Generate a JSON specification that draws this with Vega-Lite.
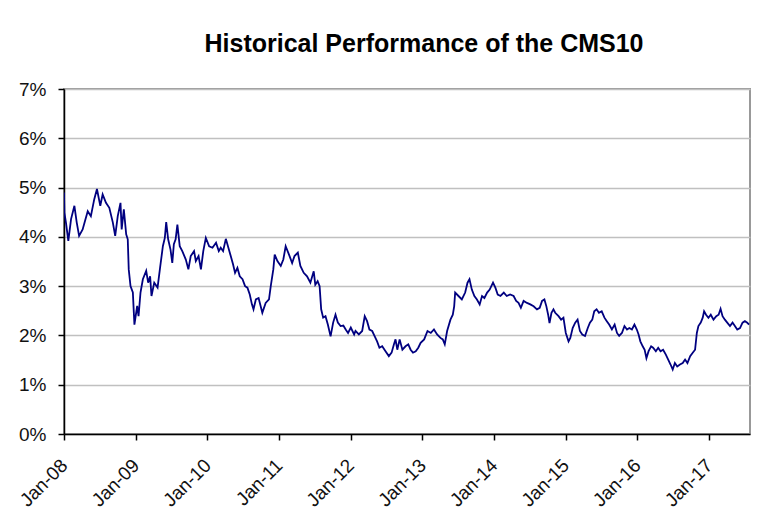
{
  "$schema": "https://vega.github.io/schema/vega-lite/v6.json",
  "width": 686,
  "height": 345,
  "autosize": {"type": "none"},
  "padding": {"left": 64, "top": 89, "right": 29, "bottom": 89},
  "background": "white",
  "title": {"text": "Historical Performance of the CMS10", "font": "Liberation Sans", "fontSize": 25, "fontWeight": "bold", "color": "black", "anchor": "middle", "dx": 17, "offset": 23},
  "data": {"values": [
    {"date": "2008-01-01", "rate": 4.90}, {"date": "2008-01-03", "rate": 4.49}, {"date": "2008-01-11", "rate": 4.29}, {"date": "2008-01-23", "rate": 3.92},
    {"date": "2008-02-06", "rate": 4.36}, {"date": "2008-02-23", "rate": 4.63}, {"date": "2008-03-06", "rate": 4.29}, {"date": "2008-03-18", "rate": 4.02},
    {"date": "2008-04-05", "rate": 4.15}, {"date": "2008-04-17", "rate": 4.32}, {"date": "2008-05-01", "rate": 4.52}, {"date": "2008-05-17", "rate": 4.42},
    {"date": "2008-06-03", "rate": 4.76}, {"date": "2008-06-17", "rate": 4.97}, {"date": "2008-07-04", "rate": 4.63}, {"date": "2008-07-16", "rate": 4.86},
    {"date": "2008-08-02", "rate": 4.69}, {"date": "2008-08-19", "rate": 4.59}, {"date": "2008-09-06", "rate": 4.29}, {"date": "2008-09-18", "rate": 4.02},
    {"date": "2008-10-01", "rate": 4.42}, {"date": "2008-10-15", "rate": 4.69}, {"date": "2008-10-21", "rate": 4.15}, {"date": "2008-11-01", "rate": 4.56},
    {"date": "2008-11-13", "rate": 4.05}, {"date": "2008-11-21", "rate": 3.95}, {"date": "2008-11-26", "rate": 3.34}, {"date": "2008-12-05", "rate": 3.00},
    {"date": "2008-12-17", "rate": 2.87}, {"date": "2008-12-22", "rate": 2.46}, {"date": "2008-12-25", "rate": 2.22}, {"date": "2009-01-08", "rate": 2.60},
    {"date": "2009-01-15", "rate": 2.39}, {"date": "2009-01-25", "rate": 2.87}, {"date": "2009-02-06", "rate": 3.14}, {"date": "2009-02-23", "rate": 3.31},
    {"date": "2009-03-05", "rate": 3.07}, {"date": "2009-03-15", "rate": 3.20}, {"date": "2009-03-22", "rate": 2.80}, {"date": "2009-04-05", "rate": 3.07},
    {"date": "2009-04-22", "rate": 2.97}, {"date": "2009-05-05", "rate": 3.38}, {"date": "2009-05-19", "rate": 3.81}, {"date": "2009-05-29", "rate": 3.98},
    {"date": "2009-06-05", "rate": 4.30}, {"date": "2009-06-15", "rate": 3.95}, {"date": "2009-06-27", "rate": 3.74}, {"date": "2009-07-06", "rate": 3.47},
    {"date": "2009-07-14", "rate": 3.85}, {"date": "2009-07-23", "rate": 3.95}, {"date": "2009-08-01", "rate": 4.25}, {"date": "2009-08-13", "rate": 3.81},
    {"date": "2009-08-26", "rate": 3.71}, {"date": "2009-09-13", "rate": 3.54}, {"date": "2009-09-26", "rate": 3.34}, {"date": "2009-10-08", "rate": 3.61},
    {"date": "2009-10-25", "rate": 3.71}, {"date": "2009-11-03", "rate": 3.51}, {"date": "2009-11-17", "rate": 3.61}, {"date": "2009-11-29", "rate": 3.34},
    {"date": "2009-12-11", "rate": 3.71}, {"date": "2009-12-24", "rate": 3.98}, {"date": "2010-01-10", "rate": 3.81}, {"date": "2010-01-27", "rate": 3.78},
    {"date": "2010-02-14", "rate": 3.88}, {"date": "2010-02-28", "rate": 3.71}, {"date": "2010-03-10", "rate": 3.78}, {"date": "2010-03-22", "rate": 3.71},
    {"date": "2010-04-05", "rate": 3.96}, {"date": "2010-04-18", "rate": 3.78}, {"date": "2010-04-30", "rate": 3.61}, {"date": "2010-05-12", "rate": 3.44},
    {"date": "2010-05-22", "rate": 3.27}, {"date": "2010-06-03", "rate": 3.37}, {"date": "2010-06-15", "rate": 3.20}, {"date": "2010-06-29", "rate": 3.14},
    {"date": "2010-07-12", "rate": 3.00}, {"date": "2010-07-24", "rate": 2.97}, {"date": "2010-08-05", "rate": 2.83}, {"date": "2010-08-16", "rate": 2.63},
    {"date": "2010-08-24", "rate": 2.53}, {"date": "2010-09-05", "rate": 2.73}, {"date": "2010-09-19", "rate": 2.76}, {"date": "2010-10-08", "rate": 2.46},
    {"date": "2010-10-25", "rate": 2.66}, {"date": "2010-11-11", "rate": 2.73}, {"date": "2010-11-20", "rate": 3.00}, {"date": "2010-12-03", "rate": 3.34},
    {"date": "2010-12-10", "rate": 3.64}, {"date": "2010-12-24", "rate": 3.51}, {"date": "2011-01-10", "rate": 3.41}, {"date": "2011-01-23", "rate": 3.54},
    {"date": "2011-02-04", "rate": 3.81}, {"date": "2011-02-21", "rate": 3.64}, {"date": "2011-03-09", "rate": 3.47}, {"date": "2011-03-21", "rate": 3.61},
    {"date": "2011-04-07", "rate": 3.68}, {"date": "2011-04-20", "rate": 3.41}, {"date": "2011-05-07", "rate": 3.27}, {"date": "2011-05-24", "rate": 3.20},
    {"date": "2011-06-10", "rate": 3.07}, {"date": "2011-06-27", "rate": 3.30}, {"date": "2011-07-05", "rate": 3.03}, {"date": "2011-07-17", "rate": 3.10},
    {"date": "2011-07-27", "rate": 3.00}, {"date": "2011-08-04", "rate": 2.53}, {"date": "2011-08-14", "rate": 2.36}, {"date": "2011-08-26", "rate": 2.39},
    {"date": "2011-09-07", "rate": 2.22}, {"date": "2011-09-21", "rate": 1.98}, {"date": "2011-10-04", "rate": 2.26}, {"date": "2011-10-16", "rate": 2.42},
    {"date": "2011-10-28", "rate": 2.26}, {"date": "2011-11-11", "rate": 2.19}, {"date": "2011-11-25", "rate": 2.20}, {"date": "2011-12-07", "rate": 2.12},
    {"date": "2011-12-19", "rate": 2.05}, {"date": "2012-01-02", "rate": 2.16}, {"date": "2012-01-19", "rate": 2.02}, {"date": "2012-01-26", "rate": 2.09},
    {"date": "2012-02-12", "rate": 2.02}, {"date": "2012-02-29", "rate": 2.09}, {"date": "2012-03-13", "rate": 2.39}, {"date": "2012-03-25", "rate": 2.29},
    {"date": "2012-04-06", "rate": 2.12}, {"date": "2012-04-20", "rate": 2.09}, {"date": "2012-05-03", "rate": 1.98}, {"date": "2012-05-15", "rate": 1.88},
    {"date": "2012-05-27", "rate": 1.75}, {"date": "2012-06-10", "rate": 1.78}, {"date": "2012-06-27", "rate": 1.68}, {"date": "2012-07-14", "rate": 1.58},
    {"date": "2012-07-28", "rate": 1.65}, {"date": "2012-08-09", "rate": 1.82}, {"date": "2012-08-17", "rate": 1.92}, {"date": "2012-08-26", "rate": 1.71},
    {"date": "2012-09-07", "rate": 1.92}, {"date": "2012-09-21", "rate": 1.71}, {"date": "2012-10-07", "rate": 1.78}, {"date": "2012-10-21", "rate": 1.82},
    {"date": "2012-11-02", "rate": 1.71}, {"date": "2012-11-14", "rate": 1.65}, {"date": "2012-11-28", "rate": 1.68}, {"date": "2012-12-11", "rate": 1.75},
    {"date": "2012-12-23", "rate": 1.85}, {"date": "2013-01-10", "rate": 1.92}, {"date": "2013-01-27", "rate": 2.09}, {"date": "2013-02-13", "rate": 2.05},
    {"date": "2013-03-01", "rate": 2.12}, {"date": "2013-03-17", "rate": 2.02}, {"date": "2013-04-03", "rate": 1.95}, {"date": "2013-04-15", "rate": 1.92},
    {"date": "2013-04-25", "rate": 1.82}, {"date": "2013-05-07", "rate": 2.09}, {"date": "2013-05-24", "rate": 2.32}, {"date": "2013-06-05", "rate": 2.42},
    {"date": "2013-06-12", "rate": 2.59}, {"date": "2013-06-17", "rate": 2.87}, {"date": "2013-07-04", "rate": 2.80}, {"date": "2013-07-21", "rate": 2.73},
    {"date": "2013-08-07", "rate": 2.87}, {"date": "2013-08-19", "rate": 3.07}, {"date": "2013-08-29", "rate": 3.14}, {"date": "2013-09-10", "rate": 2.93},
    {"date": "2013-09-23", "rate": 2.80}, {"date": "2013-10-06", "rate": 2.73}, {"date": "2013-10-20", "rate": 2.63}, {"date": "2013-11-01", "rate": 2.80},
    {"date": "2013-11-13", "rate": 2.76}, {"date": "2013-11-27", "rate": 2.87}, {"date": "2013-12-10", "rate": 2.93}, {"date": "2013-12-27", "rate": 3.07},
    {"date": "2014-01-08", "rate": 2.97}, {"date": "2014-01-20", "rate": 2.83}, {"date": "2014-02-03", "rate": 2.80}, {"date": "2014-02-20", "rate": 2.87},
    {"date": "2014-03-07", "rate": 2.80}, {"date": "2014-03-24", "rate": 2.83}, {"date": "2014-04-11", "rate": 2.80}, {"date": "2014-04-24", "rate": 2.70},
    {"date": "2014-05-06", "rate": 2.66}, {"date": "2014-05-18", "rate": 2.56}, {"date": "2014-06-01", "rate": 2.70}, {"date": "2014-06-18", "rate": 2.66},
    {"date": "2014-07-05", "rate": 2.63}, {"date": "2014-07-22", "rate": 2.59}, {"date": "2014-08-08", "rate": 2.53}, {"date": "2014-08-22", "rate": 2.56},
    {"date": "2014-09-03", "rate": 2.70}, {"date": "2014-09-15", "rate": 2.73}, {"date": "2014-09-25", "rate": 2.59}, {"date": "2014-10-04", "rate": 2.42},
    {"date": "2014-10-11", "rate": 2.25}, {"date": "2014-10-21", "rate": 2.46}, {"date": "2014-10-31", "rate": 2.53}, {"date": "2014-11-09", "rate": 2.46},
    {"date": "2014-11-26", "rate": 2.39}, {"date": "2014-12-09", "rate": 2.32}, {"date": "2014-12-21", "rate": 2.36}, {"date": "2015-01-02", "rate": 2.05},
    {"date": "2015-01-16", "rate": 1.88}, {"date": "2015-01-25", "rate": 1.95}, {"date": "2015-02-06", "rate": 2.15}, {"date": "2015-02-19", "rate": 2.26},
    {"date": "2015-03-03", "rate": 2.32}, {"date": "2015-03-15", "rate": 2.09}, {"date": "2015-03-27", "rate": 2.02}, {"date": "2015-04-10", "rate": 1.99},
    {"date": "2015-04-24", "rate": 2.15}, {"date": "2015-05-05", "rate": 2.26}, {"date": "2015-05-17", "rate": 2.32}, {"date": "2015-05-27", "rate": 2.49},
    {"date": "2015-06-08", "rate": 2.53}, {"date": "2015-06-20", "rate": 2.46}, {"date": "2015-07-04", "rate": 2.49}, {"date": "2015-07-18", "rate": 2.36},
    {"date": "2015-07-30", "rate": 2.29}, {"date": "2015-08-11", "rate": 2.22}, {"date": "2015-08-25", "rate": 2.12}, {"date": "2015-09-08", "rate": 2.22},
    {"date": "2015-09-20", "rate": 2.05}, {"date": "2015-10-01", "rate": 1.99}, {"date": "2015-10-15", "rate": 2.05}, {"date": "2015-10-28", "rate": 2.19},
    {"date": "2015-11-10", "rate": 2.12}, {"date": "2015-11-22", "rate": 2.15}, {"date": "2015-12-05", "rate": 2.12}, {"date": "2015-12-18", "rate": 2.22},
    {"date": "2015-12-30", "rate": 2.12}, {"date": "2016-01-08", "rate": 2.02}, {"date": "2016-01-17", "rate": 1.88}, {"date": "2016-01-29", "rate": 1.78},
    {"date": "2016-02-08", "rate": 1.71}, {"date": "2016-02-17", "rate": 1.54}, {"date": "2016-02-28", "rate": 1.68}, {"date": "2016-03-12", "rate": 1.78},
    {"date": "2016-03-22", "rate": 1.75}, {"date": "2016-04-05", "rate": 1.68}, {"date": "2016-04-17", "rate": 1.75}, {"date": "2016-04-29", "rate": 1.68},
    {"date": "2016-05-12", "rate": 1.71}, {"date": "2016-05-26", "rate": 1.61}, {"date": "2016-06-07", "rate": 1.51}, {"date": "2016-06-19", "rate": 1.41},
    {"date": "2016-06-30", "rate": 1.31}, {"date": "2016-07-11", "rate": 1.44}, {"date": "2016-07-23", "rate": 1.37}, {"date": "2016-08-06", "rate": 1.41},
    {"date": "2016-08-20", "rate": 1.44}, {"date": "2016-09-01", "rate": 1.51}, {"date": "2016-09-13", "rate": 1.44}, {"date": "2016-09-27", "rate": 1.58},
    {"date": "2016-10-10", "rate": 1.65}, {"date": "2016-10-22", "rate": 1.71}, {"date": "2016-10-31", "rate": 2.05}, {"date": "2016-11-08", "rate": 2.19},
    {"date": "2016-11-20", "rate": 2.26}, {"date": "2016-11-30", "rate": 2.36}, {"date": "2016-12-07", "rate": 2.49}, {"date": "2016-12-17", "rate": 2.42},
    {"date": "2016-12-29", "rate": 2.36}, {"date": "2017-01-10", "rate": 2.42}, {"date": "2017-01-24", "rate": 2.32}, {"date": "2017-02-07", "rate": 2.39},
    {"date": "2017-02-19", "rate": 2.42}, {"date": "2017-03-01", "rate": 2.54}, {"date": "2017-03-11", "rate": 2.39}, {"date": "2017-03-23", "rate": 2.32},
    {"date": "2017-04-04", "rate": 2.26}, {"date": "2017-04-18", "rate": 2.19}, {"date": "2017-05-01", "rate": 2.26}, {"date": "2017-05-13", "rate": 2.19},
    {"date": "2017-05-25", "rate": 2.12}, {"date": "2017-06-08", "rate": 2.15}, {"date": "2017-06-21", "rate": 2.26}, {"date": "2017-07-03", "rate": 2.29},
    {"date": "2017-07-15", "rate": 2.26}, {"date": "2017-07-24", "rate": 2.22}
  ]},
  "mark": {"type": "line", "color": "#000080", "strokeWidth": 1.8, "clip": true},
  "encoding": {
    "x": {
      "field": "date", "type": "temporal",
      "scale": {"type": "utc", "domain": [{"year": 2008, "month": 1, "date": 1, "utc": true}, {"year": 2017, "month": 7, "date": 29, "utc": true}]},
      "axis": {"title": null, "format": "%b-%y", "tickCount": {"interval": "year", "step": 1}, "labelAngle": -45, "labelAlign": "right", "labelBaseline": "middle", "labelFont": "Liberation Sans", "labelFontSize": 19, "labelColor": "#111111", "tickColor": "black", "tickSize": 6, "tickWidth": 1.5, "domainColor": "black", "domainWidth": 1.5, "grid": false, "labelPadding": 22, "labelOverlap": false, "labelFlush": false}
    },
    "y": {
      "field": "rate", "type": "quantitative",
      "scale": {"domain": [0, 7], "nice": false},
      "axis": {"title": null, "values": [0, 1, 2, 3, 4, 5, 6, 7], "labelExpr": "datum.value + '%'", "labelFont": "Liberation Sans", "labelFontSize": 19, "labelColor": "#111111", "tickColor": "black", "tickSize": 6, "tickWidth": 1.5, "domainColor": "black", "domainWidth": 1.5, "gridColor": "#c0c0c0", "gridWidth": 1.5, "labelPadding": 12}
    }
  },
  "config": {"view": {"stroke": "#999999", "strokeWidth": 2}}
}
